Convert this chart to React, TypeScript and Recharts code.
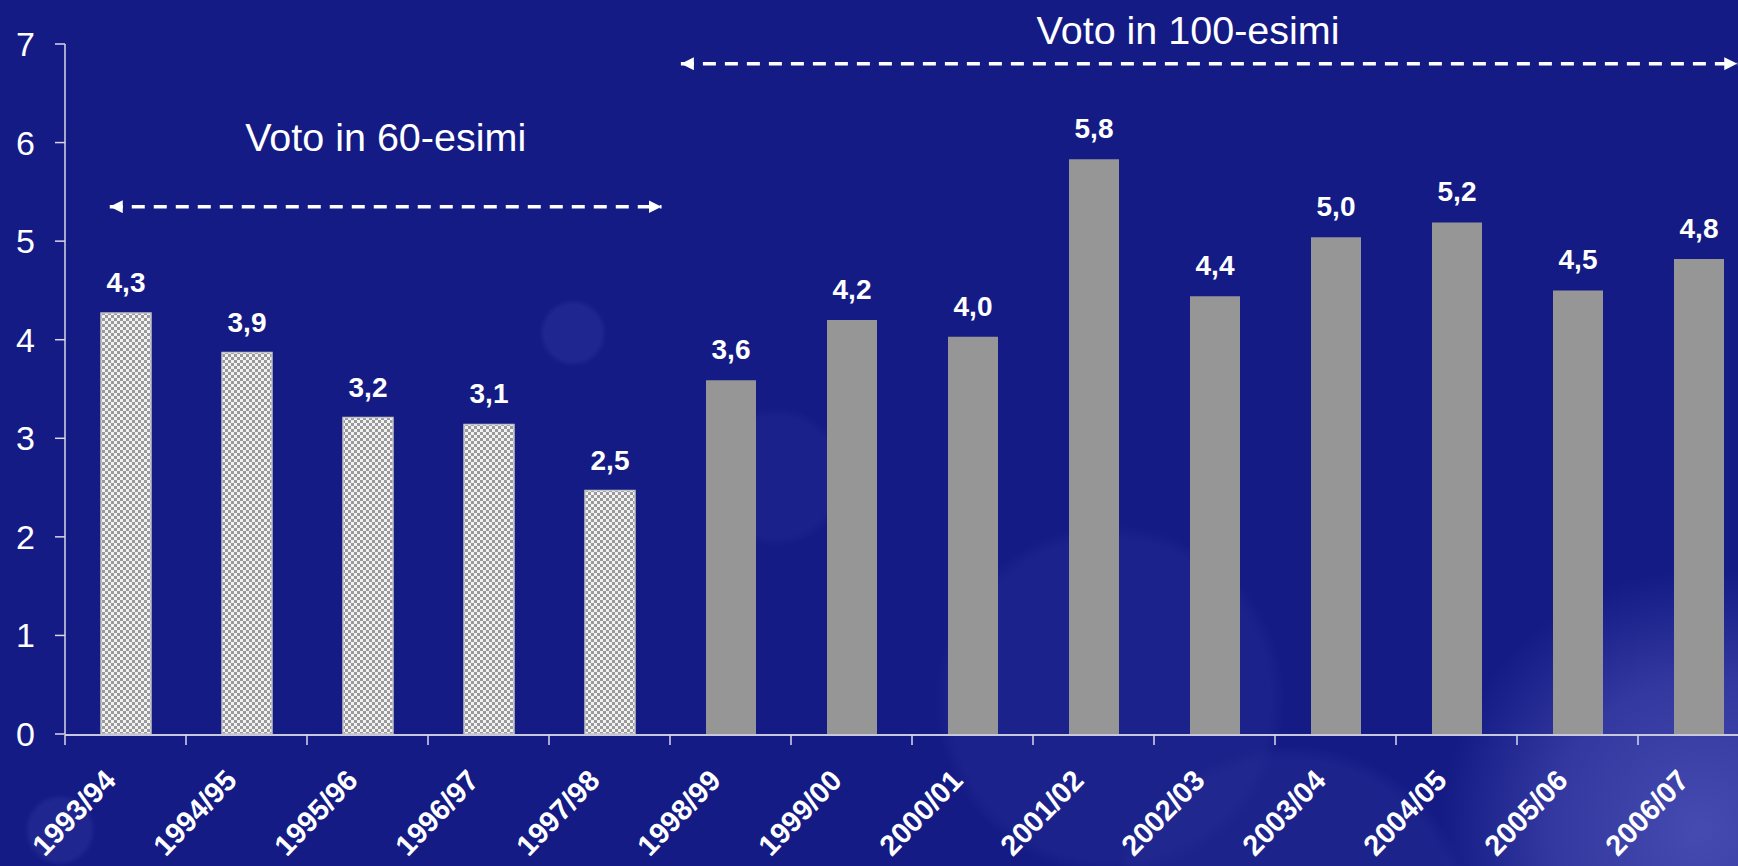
import { BarChart, Bar, XAxis, YAxis, Cell, LabelList, ReferenceLine } from 'recharts';

const seasons = [
  '1993/94', '1994/95', '1995/96', '1996/97', '1997/98', '1998/99', '1999/00',
  '2000/01', '2001/02', '2002/03', '2003/04', '2004/05', '2005/06', '2006/07',
];
const values = [4.27, 3.87, 3.21, 3.14, 2.47, 3.59, 4.2, 4.03, 5.83, 4.44, 5.04, 5.19, 4.5, 4.82];
const valueLabels = ['4,3', '3,9', '3,2', '3,1', '2,5', '3,6', '4,2', '4,0', '5,8', '4,4', '5,0', '5,2', '4,5', '4,8'];
// first five years graded in 60ths, the rest in 100ths
const gradedIn60 = [true, true, true, true, true, false, false, false, false, false, false, false, false, false];
const yTicks = [0, 1, 2, 3, 4, 5, 6, 7];
const edgeTicks = [0, 1, 2, 3, 4, 5, 6, 7, 8, 9, 10, 11, 12, 13, 14];

// arrow spans, in category units along the x axis and in values on the y axis
const span60 = { title: 'Voto in 60-esimi', from: 0.37, to: 4.93, level: 5.35 };
const span100 = { title: 'Voto in 100-esimi', from: 5.09, to: 13.82, level: 6.8 };

const data = seasons.map((season, i) => ({
  season,
  pos: i + 0.5,
  value: values[i],
  label: valueLabels[i],
  in60: gradedIn60[i],
}));

const FONT = "'Liberation Sans', Arial, sans-serif";
const BG = '#141b85';

// eslint-disable-next-line @typescript-eslint/no-explicit-any
const SeasonTick = ({ x, y, payload }: any) => (
  <g transform={`translate(${x - 8},${y + 48})`}>
    <text
      transform="rotate(-46)"
      textAnchor="end"
      fill="#fff"
      fontSize={29}
      fontWeight="bold"
      fontFamily={FONT}
    >
      {payload.value}
    </text>
  </g>
);

const NoTick = () => <g />;

// eslint-disable-next-line @typescript-eslint/no-explicit-any
const ArrowLine = (props: any) => (
  <line
    x1={props.x1}
    y1={props.y1}
    x2={props.x2}
    y2={props.y2}
    stroke="#fff"
    strokeWidth={3.5}
    strokeDasharray="13 9"
    markerStart="url(#arrowHead)"
    markerEnd="url(#arrowHead)"
  />
);

// eslint-disable-next-line @typescript-eslint/no-explicit-any
const SpanTitle = ({ viewBox, text, lift, dx }: any) => {
  if (!viewBox) return null;
  return (
    <text
      x={viewBox.x + viewBox.width / 2 + dx}
      y={viewBox.y - lift}
      textAnchor="middle"
      fill="#fff"
      fontSize={39.5}
      fontFamily={FONT}
    >
      {text}
    </text>
  );
};

export default function App() {
  return (
    <div
      style={{
        position: 'absolute',
        left: 0,
        top: 0,
        width: 1738,
        height: 866,
        overflow: 'hidden',
        backgroundColor: BG,
        backgroundImage: [
          'radial-gradient(circle at 1700px 830px, rgba(90,95,195,0.7) 0, rgba(75,80,180,0.55) 150px, rgba(20,27,133,0) 260px)',
          'radial-gradient(circle at 1110px 700px, rgba(40,48,150,0.35) 0, rgba(40,48,150,0.35) 160px, rgba(20,27,133,0) 175px)',
          'radial-gradient(circle at 1290px 930px, rgba(40,48,150,0.4) 0, rgba(40,48,150,0.4) 170px, rgba(20,27,133,0) 185px)',
          'radial-gradient(circle at 776px 477px, rgba(40,48,150,0.3) 0, rgba(40,48,150,0.3) 60px, rgba(20,27,133,0) 70px)',
          'radial-gradient(circle at 573px 333px, rgba(45,52,155,0.45) 0, rgba(45,52,155,0.45) 28px, rgba(20,27,133,0) 34px)',
          'radial-gradient(circle at 60px 830px, rgba(45,52,155,0.45) 0, rgba(45,52,155,0.45) 30px, rgba(20,27,133,0) 36px)',
        ].join(','),
      }}
    >
      <BarChart
        width={1759}
        height={866}
        data={data}
        margin={{ top: 44, right: 0, bottom: 130, left: 0 }}
        barSize={50}
      >
        <defs>
          <pattern id="checker" width="6" height="6" patternUnits="userSpaceOnUse">
            <rect width="6" height="6" fill="#f2f2f2" />
            <rect width="3" height="3" fill="#9a9a9a" />
            <rect x="3" y="3" width="3" height="3" fill="#9a9a9a" />
          </pattern>
          <marker
            id="arrowHead"
            viewBox="0 0 10 10"
            refX="10"
            refY="5"
            markerWidth="13"
            markerHeight="13"
            markerUnits="userSpaceOnUse"
            orient="auto-start-reverse"
          >
            <path d="M0,0 L10,5 L0,10 z" fill="#fff" />
          </marker>
        </defs>
        <XAxis
          xAxisId="edges"
          dataKey="pos"
          type="number"
          domain={[0, 14]}
          ticks={edgeTicks}
          allowDataOverflow
          height={1}
          axisLine={{ stroke: '#c8c8dc', strokeWidth: 2 }}
          tickLine={{ stroke: '#d8d8e8', strokeWidth: 1.5 }}
          tickSize={10}
          tick={NoTick}
        />
        <XAxis
          xAxisId="cat"
          dataKey="season"
          height={1}
          axisLine={false}
          tickLine={false}
          tickSize={0}
          tickMargin={0}
          interval={0}
          tick={SeasonTick}
        />
        <YAxis
          width={65}
          domain={[0, 7]}
          ticks={yTicks}
          axisLine={{ stroke: '#d8d8e8', strokeWidth: 1.5 }}
          tickLine={{ stroke: '#d8d8e8', strokeWidth: 1.5 }}
          tickSize={10}
          tickMargin={20}
          tick={{ fill: '#fff', fontSize: 34, fontFamily: FONT }}
        />
        <ReferenceLine
          xAxisId="edges"
          segment={[{ x: span60.from, y: span60.level }, { x: span60.to, y: span60.level }]}
          shape={ArrowLine}
          label={<SpanTitle text={span60.title} lift={56} dx={0} />}
        />
        <ReferenceLine
          xAxisId="edges"
          segment={[{ x: span100.from, y: span100.level }, { x: span100.to, y: span100.level }]}
          shape={ArrowLine}
          label={<SpanTitle text={span100.title} lift={20} dx={-21} />}
        />
        <Bar xAxisId="cat" dataKey="value" isAnimationActive={false}>
          {data.map((d) => (
            <Cell
              key={d.season}
              fill={d.in60 ? 'url(#checker)' : '#969696'}
              stroke={d.in60 ? '#c4c4c4' : 'none'}
              strokeWidth={d.in60 ? 1.5 : 0}
            />
          ))}
          <LabelList
            dataKey="label"
            position="top"
            offset={21}
            fill="#fff"
            fontSize={28}
            fontWeight="bold"
            fontFamily={FONT}
          />
        </Bar>
      </BarChart>
    </div>
  );
}
